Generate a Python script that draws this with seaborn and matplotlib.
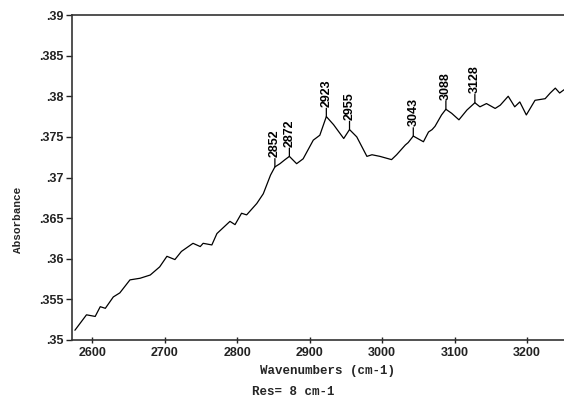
import numpy as np
import pandas as pd
import matplotlib
matplotlib.use("Agg")
import matplotlib.pyplot as plt
import seaborn as sns

# IR absorbance spectrum, C-H stretch region
wavenumber = [2576, 2592, 2604, 2611, 2618, 2629, 2638, 2652, 2666, 2680,
              2693, 2703, 2714, 2723, 2739, 2749, 2753, 2765, 2772, 2790,
              2797, 2806, 2813, 2827, 2836, 2846, 2852, 2859, 2866, 2872,
              2882, 2891, 2905, 2914, 2923, 2933, 2947, 2955, 2965, 2979,
              2986, 2997, 3013, 3020, 3032, 3036, 3043, 3057, 3064, 3069,
              3073, 3082, 3088, 3096, 3106, 3117, 3128, 3135, 3144, 3156,
              3163, 3174, 3183, 3190, 3199, 3211, 3225, 3232, 3239, 3245,
              3251]
absorbance = [.3512, .3531, .3529, .3541, .3539, .3553, .3558, .3574, .3576, .3580,
              .3590, .3603, .3599, .3609, .3619, .3615, .3619, .3617, .3631, .3646,
              .3642, .3656, .3654, .3668, .3680, .3703, .3713, .3717, .3722, .3726,
              .3717, .3723, .3746, .3752, .3775, .3765, .3748, .3759, .3750, .3726,
              .3728, .3726, .3722, .3728, .3740, .3743, .3751, .3744, .3756, .3759,
              .3763, .3777, .3784, .3779, .3771, .3783, .3792, .3787, .3791, .3785,
              .3789, .3800, .3787, .3793, .3777, .3795, .3797, .3804, .3810, .3804,
              .3808]

peak_labels = [2852, 2872, 2923, 2955, 3043, 3088, 3128]

x_ticks = [2600, 2700, 2800, 2900, 3000, 3100, 3200]
y_ticks = [.35, .355, .36, .365, .37, .375, .38, .385, .39]
y_tick_labels = [".35", ".355", ".36", ".365", ".37", ".375", ".38", ".385", ".39"]

df = pd.DataFrame({"wavenumber": wavenumber, "absorbance": absorbance})

sns.set_style("ticks")
plt.rcParams["font.family"] = ["Liberation Sans", "DejaVu Sans"]

fig = plt.figure(figsize=(5.64, 3.98), dpi=100)
ax = fig.add_axes([72 / 564, 58 / 398, 1 - 72 / 564, 325 / 398])

sns.lineplot(data=df, x="wavenumber", y="absorbance", ax=ax,
             color="black", linewidth=0.9, sort=False)

ax.set_xlim(2572, 3251)
ax.set_ylim(.35, .39)
ax.set_xticks(x_ticks)
ax.set_xticklabels([str(t) for t in x_ticks], fontsize=9, fontweight="bold")
ax.set_yticks(y_ticks)
ax.set_yticklabels(y_tick_labels, fontsize=9, fontweight="bold")
ax.tick_params(axis="y", direction="out", length=4, width=1, pad=2, colors="#222222")
ax.tick_params(axis="x", direction="inout", length=4, width=1, pad=3, colors="#222222")
ax.set_xlabel("")
ax.set_ylabel("")

for side in ("left", "bottom", "top"):
    ax.spines[side].set_visible(True)
    ax.spines[side].set_linewidth(1.2)
    ax.spines[side].set_color("#333333")
ax.spines["right"].set_visible(False)

# Peak markers: short vertical tick plus rotated wavenumber label
lookup = dict(zip(wavenumber, absorbance))
for pk in peak_labels:
    yv = lookup[pk]
    ax.annotate("", xy=(pk, yv), xytext=(0, 6), textcoords="offset points",
                arrowprops=dict(arrowstyle="-", color="black", lw=0.9,
                                shrinkA=0, shrinkB=0))
    ax.annotate(str(pk), xy=(pk, yv), xytext=(0, 7), textcoords="offset points",
                rotation=90, ha="center", va="bottom",
                fontsize=9, fontweight="bold", color="black")

fig.text(18 / 564, 1 - 220 / 398, "Absorbance", rotation=90, ha="center", va="center",
         family=["Liberation Mono", "DejaVu Sans Mono"], fontweight="bold", fontsize=8)
fig.text(328 / 564, 1 - 371 / 398, "Wavenumbers (cm-1)", ha="center", va="center",
         family=["Liberation Mono", "DejaVu Sans Mono"], fontweight="bold", fontsize=9)
fig.text(293 / 564, 1 - 392 / 398, "Res= 8 cm-1", ha="center", va="center",
         family=["Liberation Mono", "DejaVu Sans Mono"], fontweight="bold", fontsize=9)

fig.savefig("out.png", dpi=100, facecolor="white")
